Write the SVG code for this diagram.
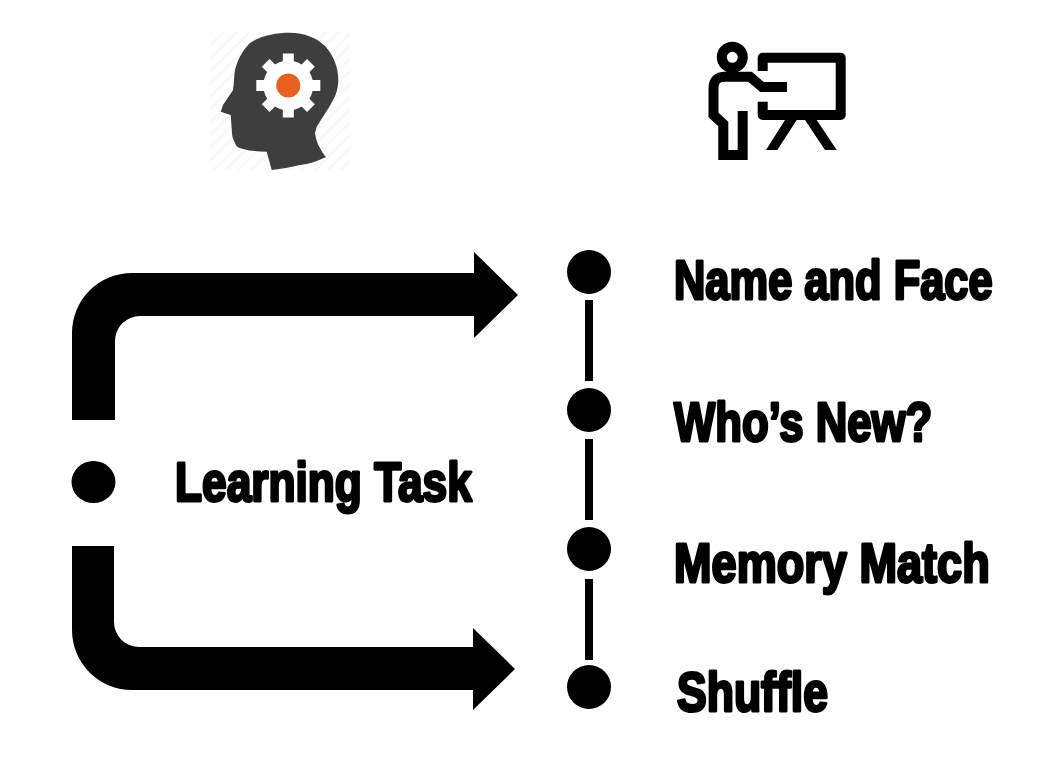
<svg xmlns="http://www.w3.org/2000/svg" width="1054" height="780" viewBox="0 0 1054 780">
<style>
.t{font-family:"Liberation Sans",Arial,sans-serif;font-weight:700;font-size:55px;fill:#000;stroke:#000;stroke-width:3px;stroke-linejoin:round}
.ic{fill:none;stroke:#000;stroke-width:10}
</style>
<defs>
<pattern id="hatch" width="9" height="9" patternUnits="userSpaceOnUse" patternTransform="rotate(45)"><rect width="9" height="9" fill="#fff"/><rect width="2" height="9" fill="#f8f8f8"/></pattern>
</defs>
<rect width="1054" height="780" fill="#fff"/>
<g id="head-icon">
<rect x="210" y="32" width="140" height="138" fill="url(#hatch)"/>
<path fill="#3e3e3e" d="M290 32.700C304 32.700 317 38 325 46C334 56 338.300 68 338.300 80C338.300 88 336 95 333 100C328 110 322 118 316.700 126.700L315 133C316 140 318 145 320 148C322 152 324 155 326 157C318 161 309 164 300 165C291 167 281 169 271.700 170L266.700 151.700C258 151.500 250 151 243 149C238 148 236 146 235 143C233 139 232 136 232 133L230.700 115L220.700 111.700L223 105L233 90C234 84 234 76 235 70C238 58 243 50 250 43C260 36 275 32.700 290 32.700Z"/>
<g fill="#fff" transform="translate(288.300 85.500)">
<circle r="25"/>
<rect x="-5.500" y="-32" width="11" height="64"/>
<rect x="-5.500" y="-32" width="11" height="64" transform="rotate(45)"/>
<rect x="-5.500" y="-32" width="11" height="64" transform="rotate(90)"/>
<rect x="-5.500" y="-32" width="11" height="64" transform="rotate(135)"/>
</g>
<circle cx="288.300" cy="85.500" r="12" fill="#e8601f"/>
</g>
<g id="presenter-icon">
<circle class="ic" cx="732.300" cy="57.300" r="10.500"/>
<path class="ic" d="M787 87H762L750 76.700H725Q713.500 76.700 713.500 88V115L723.300 124V155H742.700V111"/>
<path class="ic" stroke-linejoin="round" d="M762.700 71V57.700H840.700V115H762.700V101.700"/>
<path d="M785 120L766 150H777.300L796.700 120ZM805 120L825 150H836.700L816.700 120Z"/>
</g>
<g id="connectors">
<path d="M72 420V333A60 60 0 0 1 132 273H474V252L518 295L474 338V316H140A25 25 0 0 0 115 341V420Z"/>
<path d="M72 546V630A60 60 0 0 0 132 690H473V710L515 669L473 628V647H139A25 25 0 0 1 114 622V546Z"/>
<g fill="#000">
<rect x="585" y="300" width="8" height="81"/>
<rect x="585" y="439" width="8" height="81"/>
<rect x="585" y="579" width="8" height="81"/>
</g>
</g>
<g id="node-learning-task">
<ellipse cx="93.500" cy="482" rx="22" ry="21"/>
<text class="t" transform="translate(175 501) scale(0.805 1)">Learning Task</text>
</g>
<g id="node-name-and-face">
<circle cx="589" cy="272" r="22"/>
<text class="t" transform="translate(674 299) scale(0.79 1)">Name and Face</text>
</g>
<g id="node-whos-new">
<circle cx="589" cy="410" r="22"/>
<text class="t" transform="translate(674 441) scale(0.795 1)">Who’s New?</text>
</g>
<g id="node-memory-match">
<circle cx="589" cy="549" r="22"/>
<text class="t" transform="translate(674 582) scale(0.82 1)">Memory Match</text>
</g>
<g id="node-shuffle">
<circle cx="589" cy="687" r="22"/>
<text class="t" transform="translate(677 711) scale(0.81 1)">Shuffle</text>
</g>
</svg>
